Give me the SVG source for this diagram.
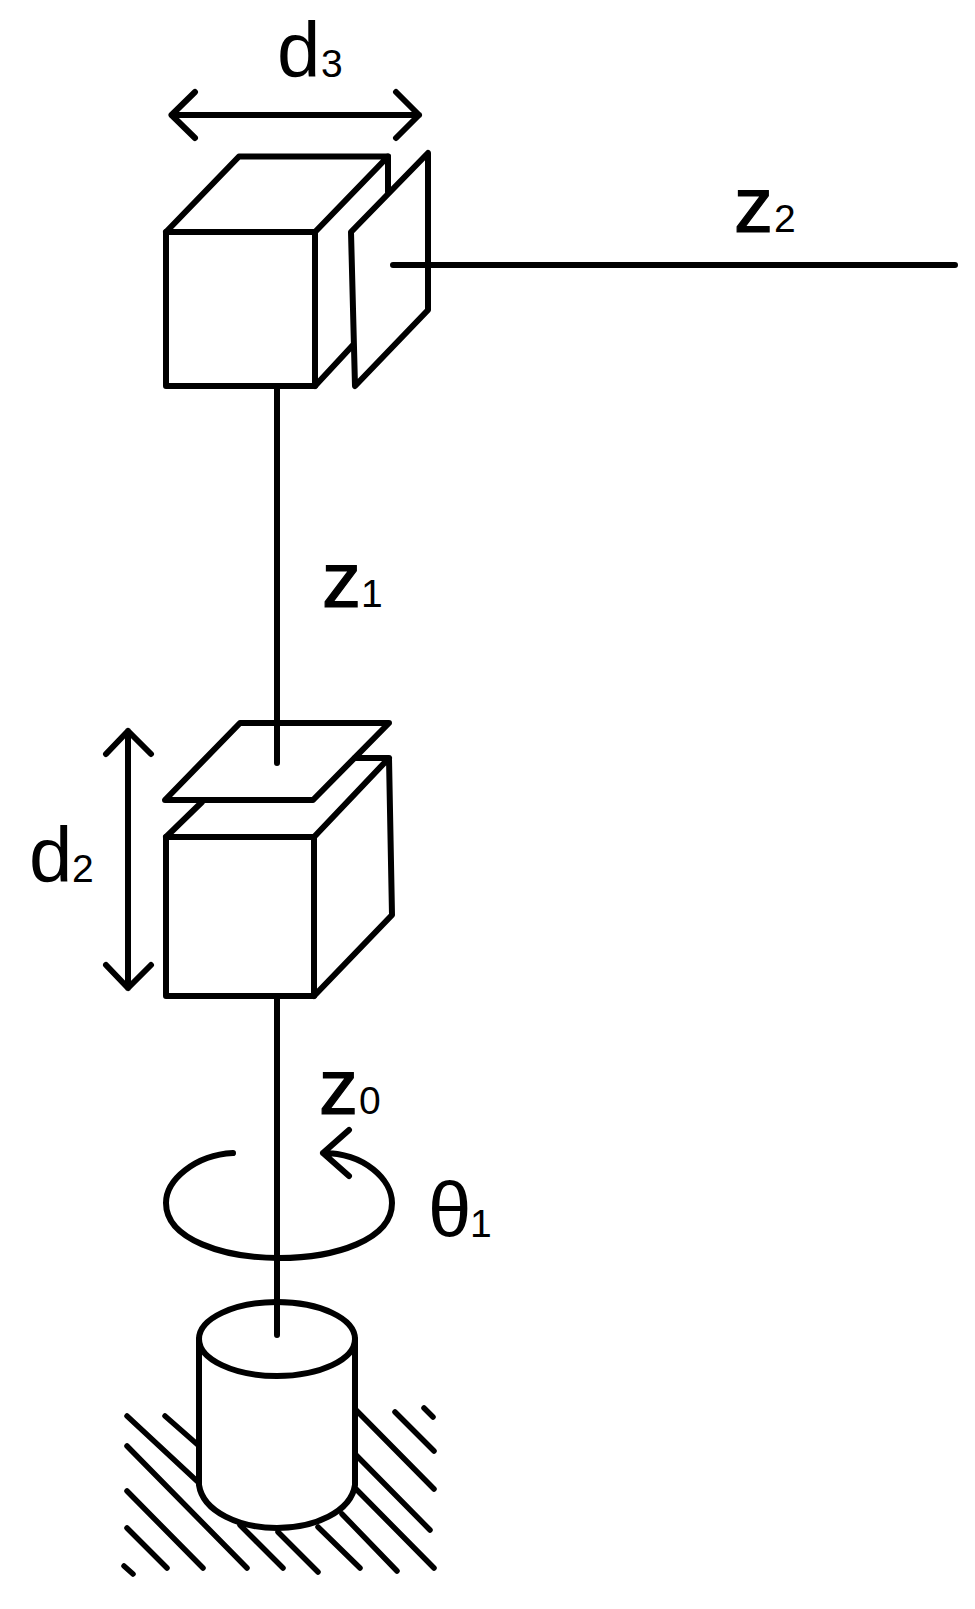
<svg xmlns="http://www.w3.org/2000/svg" width="975" height="1609" viewBox="0 0 975 1609">
<style>
.s{fill:none;stroke:#000;stroke-width:6;stroke-linejoin:round;stroke-linecap:round}
.h{fill:none;stroke:#000;stroke-width:5.500;stroke-linecap:round}
.w{fill:#fff;stroke:#000;stroke-width:6;stroke-linejoin:round;stroke-linecap:round}
text{font-family:"Liberation Sans",Arial,sans-serif;fill:#000}
.m{font-size:78px}
.z{font-size:78px;stroke:#000;stroke-width:1.200}
.b{font-size:39px}
</style>
<rect width="975" height="1609" fill="#fff"/>
<g id="ground-hatch" class="h">
<path d="M127 1416L198 1482M165 1416L198 1445M127 1446L247 1568M127 1491L203 1568M127 1528L167 1568M124 1566L133 1574M240 1525L283 1568M278 1532L318 1572M318 1527L360 1568M342 1514L397 1571M356 1489L434 1568M356 1455L430 1530M356 1410L434 1489M395 1412L434 1451M424 1408L433 1417"/>
</g>
<g id="base-cylinder">
<path class="w" d="M199 1339V1485C203 1512 240 1528 277 1528C314 1528 351 1512 355 1485V1339"/>
<ellipse class="w" cx="277" cy="1339" rx="78" ry="37"/>
</g>
<g id="upper-block">
<path class="s" d="M388 156.500V192M315 386L353 345"/>
<path class="s" d="M166 232L239 156.500H388L315 232"/>
<rect class="s" x="166" y="232" width="149" height="154"/>
<path class="s" d="M351 232L428 153V310L355 386Z"/>
</g>
<g id="middle-block">
<path class="s" d="M166 837L202 802M314 837L389 758H355M389 758L392 915L314 996"/>
<rect class="s" x="166" y="837" width="148" height="159"/>
<path class="s" d="M165 800L240 723H389L313 800Z"/>
</g>
<g id="connectors">
<path class="s" d="M277 386V763M277 996V1335M393 265H955"/>
<path id="d3-arrow" class="s" d="M171.500 115H419M195 92L171.500 115L195 138M396 92L419 115L396 138"/>
<path id="d2-arrow" class="s" d="M128 731V988M106 754L128 731L151 754M106 965L128 988L151 965"/>
<path id="theta-arrow" class="s" d="M233 1153C195 1155 166 1180 166 1203C166 1240 225 1258 279 1258C335 1258 392 1240 392 1203C392 1180 365 1153 323 1153M349 1130L323 1153L349 1176"/>
</g>
<g id="labels">
<text class="m" x="277" y="77">d</text><text class="b" x="321" y="77">3</text>
<text class="m" x="29" y="882">d</text><text class="b" x="72" y="882">2</text>
<text class="z" x="734" y="232">z</text><text class="b" x="774" y="232">2</text>
<text class="z" x="322" y="607">z</text><text class="b" x="361" y="607">1</text>
<text class="z" x="319" y="1114">z</text><text class="b" x="359" y="1114">0</text>
<text class="m" x="428" y="1237">θ</text><text class="b" x="470" y="1237">1</text>
</g>
</svg>
